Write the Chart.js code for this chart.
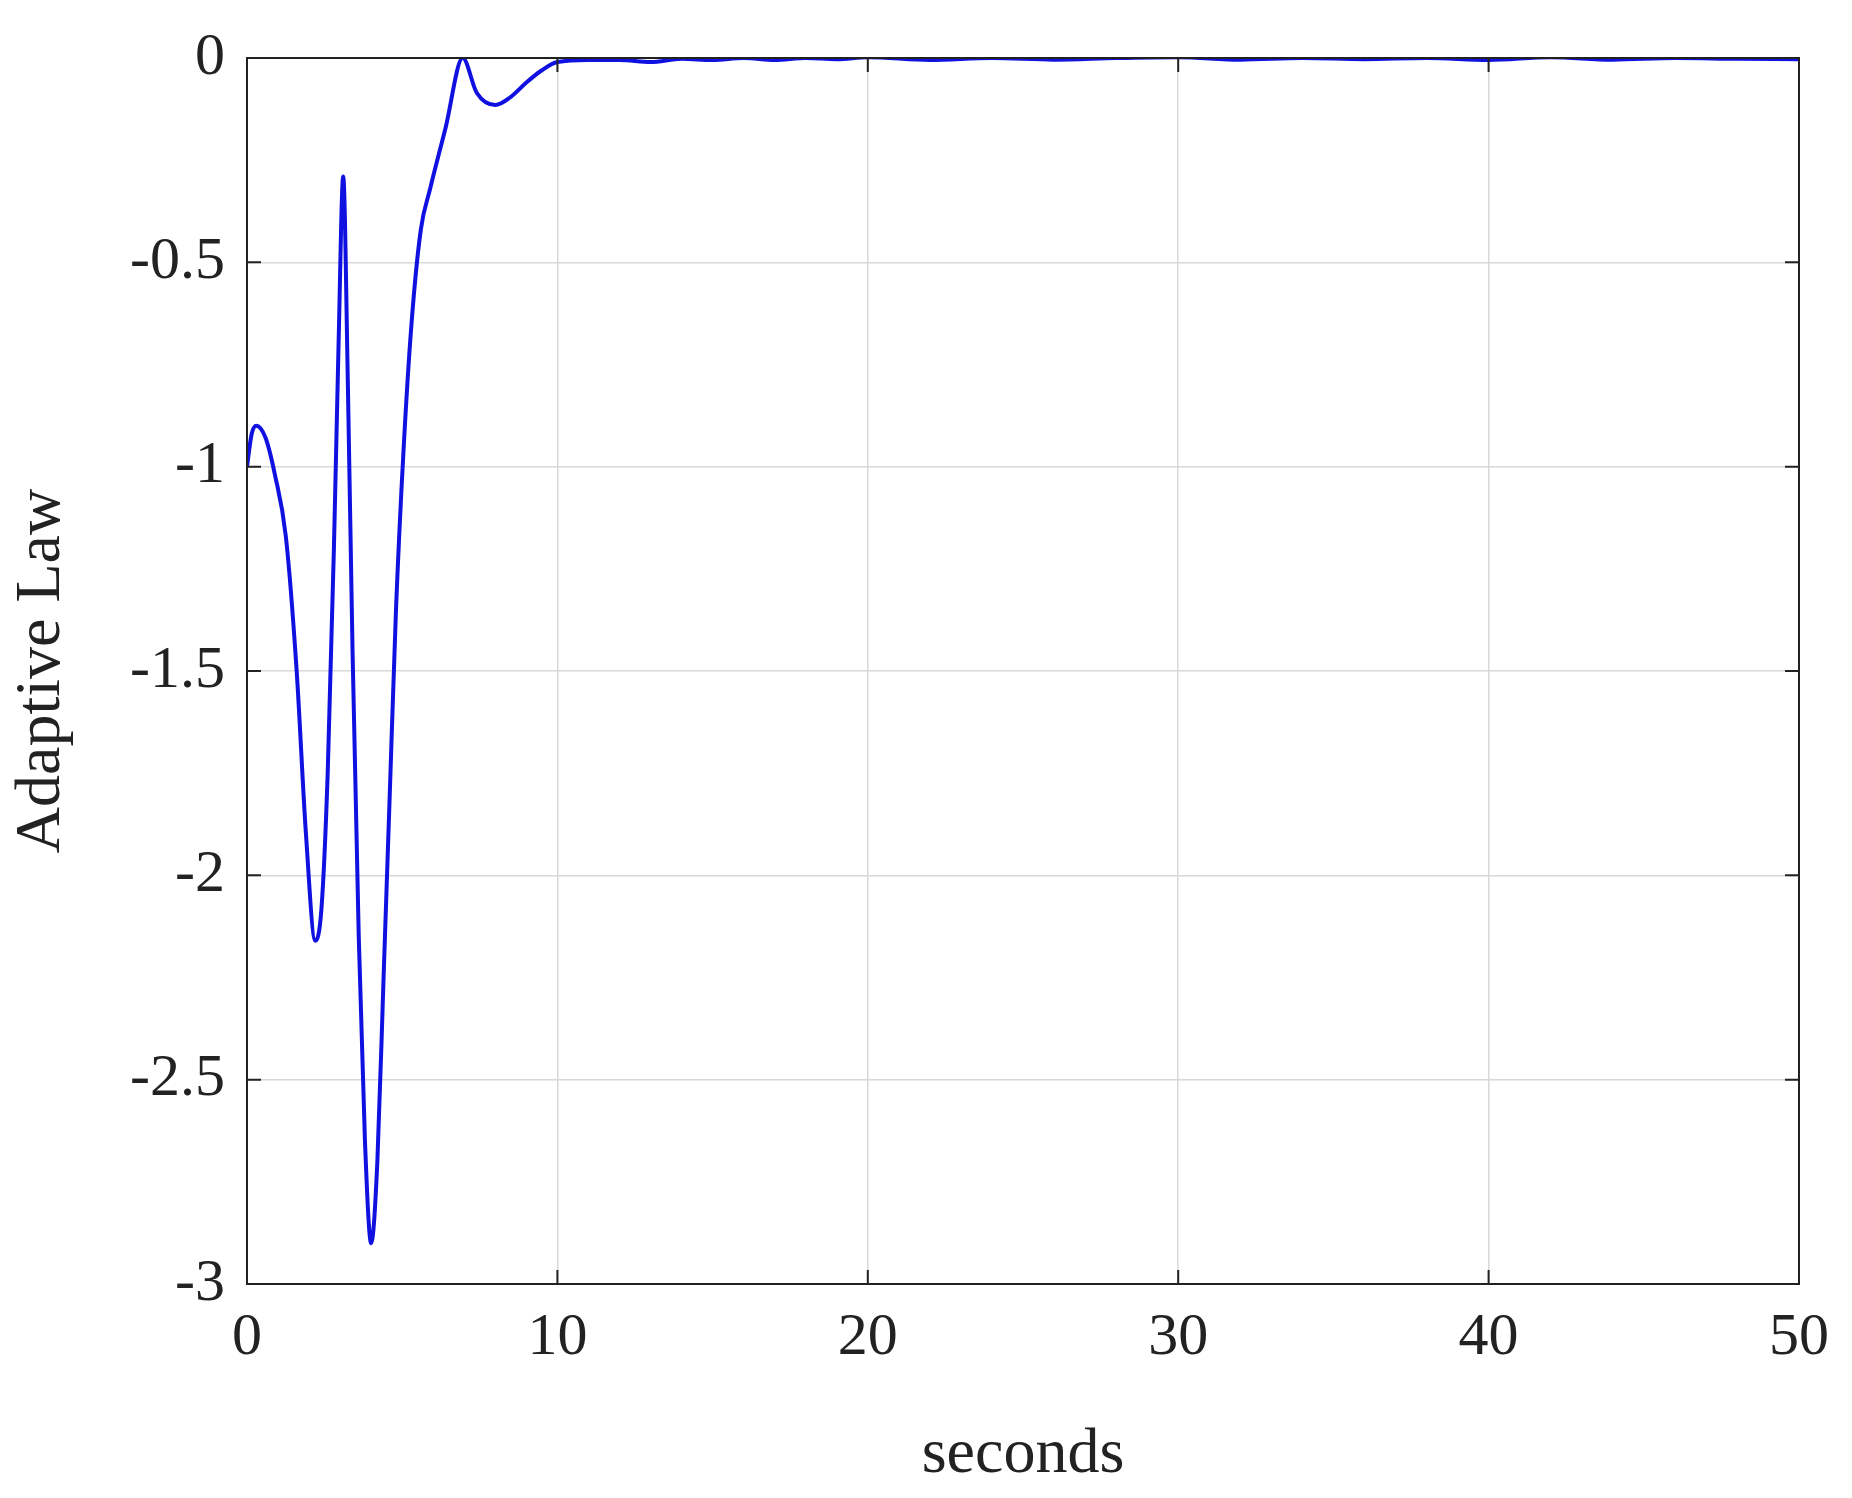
<!DOCTYPE html>
<html><head><script src="https://cdn.jsdelivr.net/npm/chart.js@4"></script>
<style>html,body{margin:0;padding:0;background:#fff}canvas{display:block}</style></head>
<body><div style="width:1852px;height:1498px"><canvas id="c"></canvas></div>
<script>
const times = [0,0.15,0.3,0.6,0.9,1.25,1.6,1.9,2.2,2.4,2.6,2.8,2.95,3.1,3.25,3.4,3.6,3.8,4.0,4.2,4.4,4.6,4.8,5.05,5.3,5.6,5.9,6.4,6.95,7.4,8.0,8.5,9.0,9.5,10,11,12,13,14,15,16,17,18,19,20,22,24,26,28,30,32,34,36,38,40,42,44,46,48,50];
const values = [-1.0,-0.92,-0.90,-0.93,-1.02,-1.17,-1.5,-1.9,-2.16,-2.08,-1.75,-1.2,-0.7,-0.29,-0.8,-1.45,-2.15,-2.65,-2.9,-2.7,-2.25,-1.8,-1.35,-0.95,-0.65,-0.42,-0.32,-0.17,0.0,-0.085,-0.115,-0.095,-0.06,-0.03,-0.01,-0.005,-0.005,-0.01,-0.002,-0.005,0.0,-0.005,0.0,-0.003,0.002,-0.005,0.0,-0.004,0.0,0.002,-0.004,0.0,-0.003,0.0,-0.005,0.002,-0.004,0.0,-0.002,-0.003];
const yTicks = [-3,-2.5,-2,-1.5,-1,-0.5,0];
const xTicks = [0,10,20,30,40,50];
const font = 'Liberation Serif';
new Chart(document.getElementById('c'), {
  type: 'line',
  data: { datasets: [{ data: times.map((t,i)=>({x:t,y:values[i]})), borderColor:'#1010e0', borderWidth:4, pointRadius:0, cubicInterpolationMode:'monotone' }] },
  options: {
    responsive:true, maintainAspectRatio:false, animation:false,
    layout:{padding:{top:12,right:53,left:0,bottom:0}},
    plugins:{legend:{display:false},tooltip:{enabled:false}},
    scales:{
      x:{type:'linear',min:0,max:50,
        afterBuildTicks:a=>{a.ticks=xTicks.map(v=>({value:v}));},
        afterFit:a=>{a.height=214;},
        grid:{color:'#d8d8d8',lineWidth:1.5,drawTicks:false},
        border:{color:'#222',width:2},
        ticks:{font:{family:font,size:60},color:'#222',padding:18,maxRotation:0},
        title:{display:true,text:'seconds',font:{family:font,size:64},color:'#222',padding:{top:0}}},
      y:{min:-3,max:0,
        afterBuildTicks:a=>{a.ticks=yTicks.map(v=>({value:v}));},
        afterFit:a=>{a.width=247;},
        grid:{color:'#d8d8d8',lineWidth:1.5,drawTicks:false},
        border:{color:'#222',width:2},
        ticks:{font:{family:font,size:60},color:'#222',padding:22,callback:v=>String(v)},
        title:{display:true,text:'Adaptive Law',font:{family:font,size:64},color:'#222',padding:{bottom:4}}}
    }
  },
  plugins:[{id:'frame',afterDraw(c){const a=c.chartArea,x=c.ctx;x.save();x.strokeStyle='#222';x.lineWidth=2;x.strokeRect(a.left,a.top,a.right-a.left,a.bottom-a.top);
    x.beginPath();yTicks.forEach(v=>{const y=c.scales.y.getPixelForValue(v);x.moveTo(a.left,y);x.lineTo(a.left+14,y);x.moveTo(a.right,y);x.lineTo(a.right-14,y);});
    xTicks.forEach(v=>{const p=c.scales.x.getPixelForValue(v);x.moveTo(p,a.bottom);x.lineTo(p,a.bottom-14);x.moveTo(p,a.top);x.lineTo(p,a.top+14);});x.stroke();x.restore();}}]
});
</script></body></html>
